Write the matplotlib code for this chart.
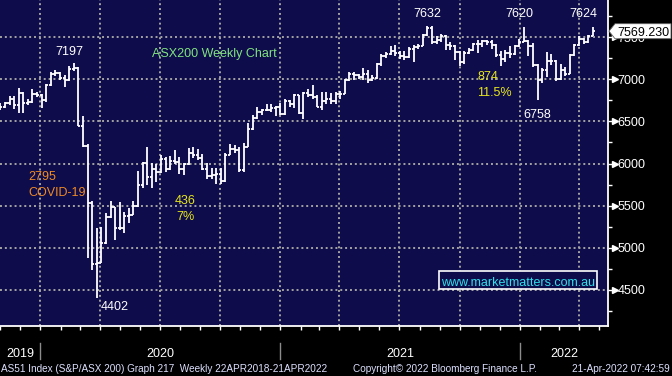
import numpy as np
import pandas as pd
import matplotlib
matplotlib.use("Agg")
import matplotlib.pyplot as plt
import matplotlib.dates as mdates
from matplotlib.ticker import MultipleLocator, FixedLocator
from matplotlib.patches import Polygon, Rectangle
from matplotlib.lines import Line2D
from matplotlib.transforms import blended_transform_factory

plt.rcParams["font.family"] = ["Liberation Sans", "DejaVu Sans"]

# weekly OHLC bars of the S&P/ASX 200 (first bar = week of 1 Nov 2019)
first_week = "2019-11-01"
opens = [6700, 6665, 6715, 6760, 6695, 6840, 6715, 6735, 6820, 6815,
         6750, 6930, 7065, 7075, 7010, 6990, 7125, 7130, 6441, 6207,
         5530, 4810, 4825, 5055, 5370, 5485, 5235, 5235, 5380, 5390,
         5495, 5745, 6005, 5840, 5935, 5900, 6055, 5930, 6030, 6015,
         5930, 5990, 6125, 6095, 6067, 5930, 5850, 5860, 5870, 5790,
         6105, 6170, 6165, 5927, 6195, 6410, 6540, 6606, 6637, 6640,
         6657, 6665, 6590, 6745, 6705, 6813, 6600, 6840, 6810, 6786,
         6675, 6740, 6765, 6740, 6825, 6830, 6990, 7063, 7045, 7025,
         7060, 6990, 7010, 7180, 7280, 7300, 7330, 7310, 7270, 7260,
         7355, 7385, 7395, 7520, 7610, 7440, 7470, 7510, 7410, 7395,
         7320, 7200, 7305, 7350, 7415, 7420, 7453, 7443, 7400, 7290,
         7240, 7310, 7300, 7390, 7444, 7453, 7395, 7170, 6990, 7110,
         7220, 7210, 7000, 7105, 7060, 7285, 7405, 7480, 7440, 7515]
highs = [6720, 6730, 6800, 6795, 6890, 6850, 6760, 6880, 6850, 6830,
         6940, 7090, 7110, 7080, 7050, 7160, 7197, 7140, 6560, 6230,
         5560, 5235, 5250, 5410, 5555, 5490, 5545, 5425, 5470, 5560,
         5910, 6020, 6200, 6005, 5990, 6105, 6080, 6090, 6165, 6080,
         6010, 6180, 6190, 6170, 6110, 6010, 5950, 5950, 5950, 6120,
         6230, 6220, 6190, 6245, 6480, 6570, 6670, 6650, 6700, 6710,
         6680, 6720, 6760, 6750, 6830, 6815, 6850, 6880, 6930, 6810,
         6850, 6850, 6840, 6850, 6860, 7000, 7080, 7080, 7060, 7130,
         7110, 7050, 7190, 7300, 7320, 7390, 7400, 7330, 7330, 7380,
         7410, 7420, 7530, 7632, 7630, 7510, 7540, 7520, 7440, 7400,
         7330, 7340, 7370, 7430, 7460, 7470, 7470, 7460, 7420, 7330,
         7350, 7390, 7400, 7480, 7620, 7460, 7430, 7180, 7130, 7320,
         7300, 7230, 7180, 7150, 7300, 7420, 7510, 7490, 7525, 7624]
lows = [6640, 6655, 6690, 6650, 6600, 6600, 6690, 6720, 6790, 6660,
        6730, 6920, 7040, 6990, 6910, 6980, 7100, 6440, 6200, 4880,
        4740, 4402, 4820, 5050, 5355, 5095, 5210, 5175, 5300, 5385,
        5485, 5710, 5745, 5710, 5775, 5890, 5900, 5920, 5990, 5880,
        5860, 5980, 6060, 6040, 5920, 5820, 5820, 5760, 5760, 5780,
        6100, 6130, 5900, 5900, 6190, 6400, 6530, 6570, 6620, 6610,
        6560, 6580, 6580, 6670, 6660, 6590, 6530, 6790, 6770, 6670,
        6640, 6700, 6700, 6700, 6760, 6820, 6980, 6990, 7000, 6990,
        6950, 6980, 7000, 7160, 7250, 7290, 7280, 7240, 7230, 7255,
        7200, 7360, 7390, 7510, 7420, 7420, 7440, 7350, 7350, 7230,
        7160, 7180, 7300, 7340, 7305, 7380, 7400, 7360, 7260, 7160,
        7200, 7250, 7290, 7380, 7440, 7270, 7150, 6758, 6960, 7020,
        7170, 6980, 6990, 7040, 7060, 7280, 7390, 7420, 7430, 7510]
closes = [6665, 6715, 6760, 6695, 6840, 6715, 6735, 6820, 6815, 6750,
          6930, 7065, 7075, 7010, 6990, 7125, 7130, 6441, 6207, 5530,
          4810, 4825, 5055, 5370, 5485, 5235, 5235, 5380, 5390, 5495,
          5745, 6005, 5840, 5935, 5900, 6055, 5930, 6030, 6015, 5930,
          5990, 6125, 6095, 6067, 5930, 5850, 5860, 5870, 5790, 6105,
          6170, 6165, 5927, 6195, 6410, 6540, 6606, 6637, 6640, 6657,
          6665, 6590, 6745, 6705, 6813, 6600, 6840, 6810, 6786, 6675,
          6740, 6765, 6740, 6825, 6830, 6990, 7063, 7045, 7025, 7060,
          6990, 7010, 7180, 7280, 7300, 7330, 7310, 7270, 7260, 7355,
          7385, 7395, 7520, 7610, 7440, 7470, 7510, 7410, 7395, 7320,
          7200, 7305, 7350, 7415, 7420, 7453, 7443, 7400, 7290, 7240,
          7310, 7300, 7390, 7444, 7453, 7395, 7170, 6990, 7110, 7220,
          7210, 7000, 7105, 7060, 7285, 7405, 7480, 7440, 7515, 7569]

last_price = "7569.230"
y_ticks = [4500, 5000, 5500, 6000, 6500, 7000, 7500]
years = [2019, 2020, 2021, 2022]

W, H = 672, 376
NAVY = "#0e0c4a"
GRID = "#a4a4a4"


def fy(yp):
    # pixel row (from top) -> figure fraction
    return 1 - yp / H


fig = plt.figure(figsize=(W / 100, H / 100), dpi=100, facecolor="black")
ax = fig.add_axes([0, 1 - 326 / H, 608 / W, 326 / H])
ax.set_facecolor(NAVY)

# --- OHLC bars ---
dates = pd.date_range(first_week, periods=len(closes), freq="7D")
x = mdates.date2num(dates)
half = 3.2
ax.vlines(x, lows, highs, color="white", lw=1.3, zorder=3)
ax.hlines(opens, x - half, x, color="white", lw=1.3, zorder=3)
ax.hlines(closes, x, x + half, color="white", lw=1.3, zorder=3)

x0 = mdates.date2num(pd.Timestamp("2019-10-31 12:00"))
ax.set_xlim(x0, x0 + 608 / 0.656)
ax.set_ylim(4073, 7939)

# --- axes styling ---
for s in ["left", "top"]:
    ax.spines[s].set_visible(False)
for s in ["right", "bottom"]:
    ax.spines[s].set_color("white")
    ax.spines[s].set_linewidth(1.3)

ax.xaxis.set_major_locator(mdates.MonthLocator(bymonth=[1, 4, 7, 10]))
ax.xaxis.set_minor_locator(mdates.MonthLocator())
ax.tick_params(axis="x", which="both", direction="out", length=3, width=1,
               color="white", labelbottom=False)

ax.yaxis.tick_right()
ax.yaxis.set_major_locator(FixedLocator(y_ticks))
ax.yaxis.set_minor_locator(MultipleLocator(250))
ax.tick_params(axis="y", which="major", direction="out", length=3, width=1,
               color="white", labelcolor="white", labelsize=9, pad=4)
ax.tick_params(axis="y", which="minor", direction="out", length=3, width=1,
               color="white")

ax.grid(True, which="major", color=GRID, linestyle=(0, (1, 1.5)), lw=1.4)

# triangle pointers at the major y ticks
tr = blended_transform_factory(ax.transAxes, ax.transData)
ax.plot(np.full(len(y_ticks), 1 + 7 / 608), y_ticks, ls="none", marker=">",
        ms=4, color="white", transform=tr, clip_on=False)

# --- year labels and separators below the axis ---
trx = blended_transform_factory(ax.transData, fig.transFigure)
xl = ax.get_xlim()
for yr in years:
    start = mdates.date2num(pd.Timestamp(f"{yr}-01-01"))
    end = mdates.date2num(pd.Timestamp(f"{yr + 1}-01-01"))
    a, b = max(start, xl[0]), min(end, xl[1])
    fig.text((a + b) / 2, fy(357), str(yr), transform=trx, color="white",
             fontsize=9, ha="center", va="baseline")
    if xl[0] < start < xl[1]:
        fig.add_artist(Line2D([start, start], [fy(343), fy(359)], transform=trx,
                              color="#8c8c8c", lw=1))

# --- annotations ---
def note(xp, yp, s, color, ha="center", size=9):
    fig.text(xp / W, fy(yp), s, color=color, fontsize=size, ha=ha, va="baseline")


note(69, 55, "7197", "white")
note(152, 57.5, "ASX200 Weekly Chart", "#80e480", ha="left")
note(427, 17, "7632", "white")
note(519, 17, "7620", "white")
note(583, 17, "7624", "white")
note(477, 80, "874", "#e6e61e", ha="left")
note(477, 96, "11.5%", "#e6e61e", ha="left")
note(537, 117.5, "6758", "white")
note(28, 180, "2795", "#f08a24", ha="left")
note(28, 196, "COVID-19", "#f08a24", ha="left")
note(185.5, 204, "436", "#e6e61e")
note(185.5, 220, "7%", "#e6e61e")
note(115, 310, "4402", "white")

# website box
fig.add_artist(Rectangle((439 / W, fy(289)), 158 / W, 18 / H, transform=fig.transFigure,
                         facecolor=NAVY, edgecolor="white", lw=1.2))
note(518, 286, "www.marketmatters.com.au", "#2ee0ea")

# last price marker
yc = H - ax.transData.transform((x0, closes[-1]))[1]
pts = [(609, yc), (615, yc - 7.5), (671, yc - 7.5), (671, yc + 7.5), (615, yc + 7.5)]
fig.add_artist(Polygon([(p / W, fy(q)) for p, q in pts], closed=True,
                       transform=fig.transFigure, facecolor="white", edgecolor="#606060",
                       lw=0.6, zorder=5))
t = fig.text(617 / W, fy(yc + 4.5), last_price, color="black", fontsize=9,
             ha="left", va="baseline", zorder=6)

# footer
foot = "#dde0ff"
fig.text(1 / W, fy(372.5), "AS51 Index (S&P/ASX 200) Graph 217  Weekly 22APR2018-21APR2022",
         color=foot, fontsize=7.2, ha="left", va="baseline")
fig.text(353 / W, fy(372.5), "Copyright\u00a9 2022 Bloomberg Finance L.P.",
         color=foot, fontsize=7.2, ha="left", va="baseline")
fig.text(670 / W, fy(372.5), "21-Apr-2022 07:42:59",
         color=foot, fontsize=7.2, ha="right", va="baseline")

fig.savefig("out.png", dpi=100, facecolor="black")
